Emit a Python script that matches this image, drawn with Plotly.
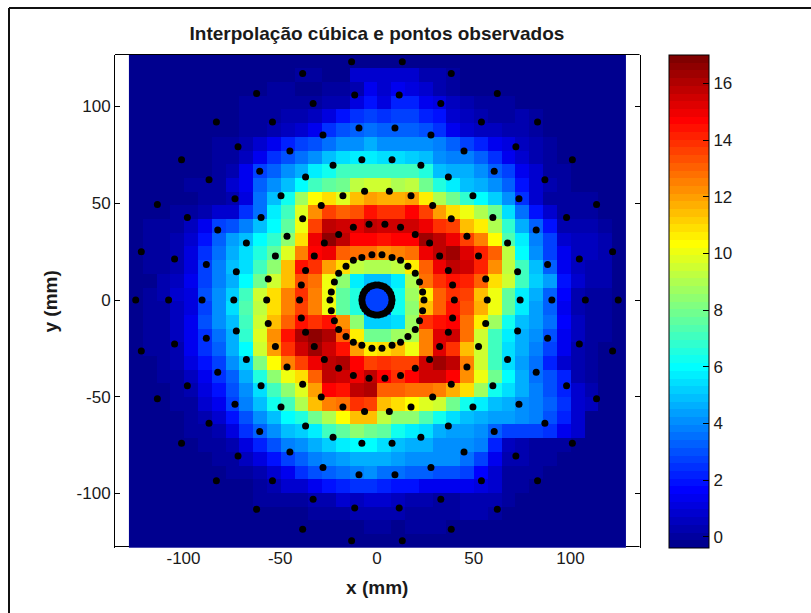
import plotly.graph_objects as go

B = -0.4  # value of the dark background cells
z_rows = [
 [B]*36,
 [B]*12+[-.1,-.1,B,-.2,.7,.7, .7,.7,.7,.2,.2,-.1]+[B]*12,
 [B]*10+[-.1,-.1,-.3,-.3,-.1,-.1,.3,1.35, .9,1.5,1.05,.7,.4,0,-.3,-.2]+[B]*10,
 [B]*8+[-.1,-.1,-.1,-.1,0,0,.2,.4,1.2,2, 1.2,2.3,2.2,1.5,1.2,.6,.2,0,0,-.1,-.2]+[B]*7,
 [B]*7+[-.2,-.1,-.1,-.1,.2,.2,.6,1.05,1.8,2.4,2.6, 2.5,2.6,2.6,2.2,1.8,.9,.6,.2,.1,.1,.2,0]+[B]*6,
 [B]*7+[-.2,-.1,0,.3,.6,.8,1.35,2.4,3,3.4,3.6, 3.4,3.4,3.4,3,2.5,1.5,.7,.6,.6,.4,.3,0,-.2]+[B]*5,
 [B]*5+[-.2,-.1,0,.2,.7,1.35,2.2,2.6,3,3.6,4,4.2,4.5, 4.2,4.2,4.2,4,3.8,3.2,2.8,2.2,1.5,1.2,.6,.2,-.1]+[B]*5,
 [B]*6+[-.1,.1,.6,1.35,2.5,3,3.5,4,4.8,5.5,5.7,5.8, 5.4,5.4,5.2,5,4.2,3.9,3.7,3.2,2.4,1.5,.9,.4,.1,-.2]+[B]*4,
 [B]*3+[-.3,-.3,-.2,0,.4,1.5,2.8,3.4,4,4.6,5.6,6.2,7,7.2,7.2, 7,7,7,6.4,5,4.7,4.5,4,3.4,2.8,1.35,.7,.1,-.1]+[B]*4,
 [B]*4+[-.1,-.1,.1,.7,1.35,3.4,4.2,5,6,7,7.5,8,9.3,9.6, 9.5,9,9.3,8,6.5,5.6,5,4.7,4.2,3.2,2,.7,.2,-.1,-.2]+[B]*3,
 [B]*2+[-.2,-.2,-.2,-.1,.1,.4,1.2,3.6,5,6.2,8.7,10.4,11,9.8,11.3,12, 11.6,11.6,12,10.6,9,8,6.8,6,5.3,4,2.4,.8,.1,0,0,-.1]+[B]*2,
 [B]*3+[-.1,.1,.2,.7,.9,2.4,3.5,5.6,7,9.7,12.3,13.7,13,13.2,14.3, 14,14,14.6,13.5,12,11,10.2,9,8,5.4,3.5,1.8,.8,.1,.1,.1]+[B]*2,
 [B,0,-.1,.1,.6,1.35,2.6,3,3.8,5,6,7.5,10.2,13.5,15.8,15.6,15.3,15.8, 15.5,15.5,15.6,15,14,13.5,11.5,10.6,9,6.8,4.7,3.3,1.8,.4,.3,.3,-.1,B],
 [B,0,.1,.4,.9,2,3.4,4.4,5,6,6.7,8.5,11,15,16.5,15.8,14.7,14.8, 14.5,14.8,14.7,16.2,15.7,15,13.7,12.4,10.3,7.3,5.8,3.7,2.8,.7,.6,.6,.2,-.2],
 [B,0,.1,.4,1.05,2.4,3.5,4.6,5.5,6.5,7.5,9.7,12.4,14.8,15,13,12.7,12.7, 12.3,12.5,12.7,15,15.8,16.2,15.2,14.2,13,9.2,6.1,4,2.8,1.5,.6,.6,.3,-.2],
 [B,-.1,.1,.4,1.2,2.6,3.8,4.8,5.5,7,8.5,11.5,14.4,14,12,11,9.3,9, 9,9.3,10.5,13,15,15.8,15.5,14.2,12.3,9.3,7,5,3.2,1.5,.6,.3,.2,-.2],
 [B,B,.2,.6,1.35,2.6,3.7,4.5,6,7.8,9.5,11.5,13.3,12.8,10.2,8.5,5.8,5, 5,5.8,9,12.8,14,14.5,14.2,13,11,9.5,7,5.3,4.4,1.8,.7,.4,.2,-.3],
 [B,-.1,.2,.7,1.2,3,4,5.3,7,9.4,11,12.6,13.8,12.6,10.2,7.5,6.5,2.8, 2.8,6.3,8.6,10.5,13,14,13.6,11.5,10,7.5,5.7,4.7,3.2,1.7,.4,.1,0,-.3],
 [B,-.1,0,.6,1.2,2.8,4,5.5,7.3,9.3,10.8,12.4,13.5,12.5,10,7.5,6.5,2.8, 2.8,6.3,8.5,11.5,13,14.5,13.4,11.7,10,7.5,5.7,4.4,3.2,1.5,.4,0,0,-.3],
 [B,0,.1,.6,1.35,3,4,5,7,9.5,11.5,13,14.5,14,14.5,12.2,8.5,5.2, 5.2,5.5,8.7,13.8,14.5,14.6,12.7,10.6,8.7,6.3,5,4.4,3.5,1.7,.6,0,-.1,B],
 [B,-.1,.1,.6,1.5,2.5,3.6,4.6,6.8,9.8,12.3,14.4,16,16.5,16,13,10.5,7.8, 8,8.7,9,12.4,15.2,15.5,12.8,9.5,7,5.7,4.7,4,3,1.5,.6,0,-.1,B],
 [B,-.1,0,.4,1.35,2.4,3.2,4.6,6,9.5,12,14,15.5,16.2,15.5,14.5,12,10.5, 11,11.4,10,12.4,15.2,14,11.5,9.6,7,5.5,4.5,3.7,2.6,1.35,.3,-.1,B,B],
 [B,B,0,.3,1.05,1.9,2.8,4,5.2,8.2,10.4,12.5,13.6,15,15.7,16,14.8,13.5, 13.8,13.5,13.6,15.6,16.4,15.7,12.5,9.5,7,5.5,4.4,3.5,2.2,.9,.3,-.1,B,B],
 [B,B,-.1,.1,.6,1.35,2.4,3.4,4.5,6.5,8.5,10.2,11,13,15.8,15.6,15,15.8, 14.6,14,14.8,15.4,15.5,14.7,12.2,10.2,8,6,4.6,3.5,3,2.2,.4,0,B,B],
 [B,B,-.2,0,.3,1.05,2,3,4.2,5.5,7,8.5,9.7,12,14.6,14.5,15.8,16, 13,13,12.8,12.8,12.4,11.8,11,8.8,6.2,5.5,4.5,3.7,3.1,2.2,.7,.4,-.2,B],
 [B,B,B,-.1,.1,.7,1.5,2.6,3.8,4.8,6.2,7.2,9,11.5,12.6,12.8,14,13.5, 11.5,10.8,10.4,9.9,9.6,7.8,6.2,5.7,5,4.6,4,3.8,3.2,2.4,.8,.6,B,B],
 [B,B,B,-.2,-.1,.3,.9,2,3,4.2,5,6,6.5,8,9,10.4,11.5,11.5, 9.2,8.4,8.4,7.4,6.2,5.5,4.8,4.5,4.3,4.3,4.2,3.8,3,2.3,.8,-.2,B,B],
 [B,B,B,B,-.1,.1,.4,1.05,2.4,3.3,4,4.8,5.3,5.8,7,7.5,8.5,8, 7.6,6.2,5.8,5.5,4.5,4.3,4.4,4,3.2,2.8,2.7,2.6,2.4,1.5,.7,-.2,B,B],
 [B,B,B,B,-.2,-.1,.1,.4,1.2,2.3,3,3.7,4.2,4.6,5.3,5.8,5.9,6, 5.5,4.8,4.5,4.5,4.2,4.2,4.1,3.7,2.2,.6,.3,.1,.1,-.1,B,B,B,B],
 [B,B,B,B,B,-.2,-.1,.1,.6,1.05,2,2.8,3.4,3.9,4.2,4.4,4.5,4.6, 4.5,4.3,4,4.2,4.2,4,3.6,2.8,1.5,.3,.2,.1,0,-.2,B,B,B,B],
 [B]*6+[-.2,-.1,.1,.3,.8,1.35,2.4,3,3.3,3.6,3.8,4, 3.6,3.6,3.4,3.3,3,2.9,2.6,1.7,.7,.1,0,-.1]+[B]*6,
 [B]*7+[-.2,-.2,0,.2,.7,.9,1.5,2,2.2,2.4,2.5, 2.1,2,1.8,1.5,1.5,1.5,1.35,1.05,.7,0,.1,-.2]+[B]*6,
 [B]*8+[-.2,-.1,-.1,0,.1,.3,.4,.7,.6,.7, .7,.6,.3,.2,0,0,.2,.3,.3,-.1]+[B]*8,
 [B]*10+[-.2,-.3,-.3,-.1,0,.1,.2,.2, .2,.2,.1,-.1,-.1,-.1,.2,.2,.1]+[B]*9,
 [B]*12+[-.2,-.2,-.3,-.2,-.2,-.1, -.1,-.3,-.1,0,0]+[B]*13,
 [B]*36,
]

# observed points: one quadrant's magnitudes per ring, with top and bottom y readings
r125_x = [124.7,121.8,113.5,101,83,62.2,38.4,13.1]
r125_t = [0,25,49.4,72.5,92,106.8,117.1,123.2]
r125_b = [0,-26.4,-51,-74,-93.4,-108.2,-118.5,-124.5]
r108_x = [107.7,104.6,98,86.8,71.8,54,33,11.5]
r108_t = [0,21.2,42.7,62.2,79.2,92,101.6,106]
r108_b = [0,-22.7,-44.3,-63.7,-80.6,-93.4,-103,-107.5]
r90_x = [90.4,88.2,82.3,73.4,60.6,45,27.9,9.3]
r90_t = [0,18.3,36.2,52.4,66.5,77,85.3,88.9]
r90_b = [0,-19.8,-37.4,-53.9,-68,-78.6,-86.6,-90.3]
r74_x = [74,72.7,67.5,59.9,49.6,36.9,22.7,7.8]
r74_t = [0,14.6,29.5,42.7,53.9,63.6,69.6,72.5]
r74_b = [0,-16,-30.8,-44.3,-55.3,-65.1,-71,-74]
r57_x = [57,56.2,52.5,46.5,38.4,28.8,17.6,6.4]
r57_t = [0,10.9,22.7,33,42,48.8,53.9,56.2]
r57_b = [0,-12.2,-24.1,-34.6,-43.6,-50.1,-55.3,-57.7]
r40_x = [40,39.1,36.9,32.4,27.2,19.8,12.2,4.1]
r40_t = [0,7.8,15.3,22.7,29.5,33.9,37.6,39.1]
r40_b = [0,-9.3,-16.7,-24.1,-30.8,-35.3,-39,-40.5]
r24_x = [24.3,23.6,22,19.8,16,12.2,7.8,2.6]
r24_t = [0,4.1,9.3,13.8,17.4,20.5,22,23.4]
r24_b = [0,-5.5,-10.7,-15.2,-18.9,-21.9,-23.4,-25]
r8_x = [7.8,7.6,7.1,6.3,5.2,3.9,2.4,0.8]
r8_t = [0,1.6,3.2,4.6,5.8,6.8,7.4,7.8]
r8_b = [0,-1.6,-3.2,-4.6,-5.8,-6.8,-7.4,-7.8]

rings = [(r125_x,r125_t,r125_b),(r108_x,r108_t,r108_b),(r90_x,r90_t,r90_b),(r74_x,r74_t,r74_b),
         (r57_x,r57_t,r57_b),(r40_x,r40_t,r40_b),(r24_x,r24_t,r24_b),(r8_x,r8_t,r8_b)]
obs_x, obs_y = [], []
for xs, ts, bs in rings:
    for sx in (-1, 1):
        obs_x += [sx*v for v in xs] + [sx*v for v in xs[1:]]
        obs_y += list(ts) + list(bs[1:])

x_ticks = [-100,-50,0,50,100]
x_tick_text = ["-100","-50","0","50","100"]
y_ticks = [-100,-50,0,50,100]
y_tick_text = ["-100","-50","0","50","100"]
cb_ticks = [0,2,4,6,8,10,12,14,16]
title_text = "Interpolação cúbica e pontos observados"
x_label = "x (mm)"
y_label = "y (mm)"

W, H = 811, 613
FONT = "Liberation Sans, Arial, sans-serif"
INK = "#1a1a1a"
ZMIN, ZMAX = -0.4, 17.0

def jet(t):
    c = lambda v: max(0.0, min(1.0, v))
    return "rgb(%d,%d,%d)" % (round(255*c(min(4*t-1.5, -4*t+4.5))),
                              round(255*c(min(4*t-0.5, -4*t+3.5))),
                              round(255*c(min(4*t+0.5, -4*t+2.5))))
N = 64
jet_scale = []
for i in range(N):
    col = jet((i+1)/N)
    jet_scale += [[i/N, col], [(i+1)/N, col]]

CX0, CY0, CW, CH = 669, 55, 39.5, 493
fig = go.Figure()
fig.add_trace(go.Heatmap(
    z=z_rows, x0=-128.2+7.14/2, dx=7.14, y0=126.8-7.08/2, dy=-7.08,
    zmin=ZMIN, zmax=ZMAX, colorscale=jet_scale, zsmooth=False, hoverinfo="skip",
    colorbar=dict(x=CX0/W, xanchor="left", xpad=0, y=1-CY0/H, yanchor="top", ypad=0,
                  thicknessmode="pixels", thickness=CW, lenmode="fraction", len=CH/H,
                  outlinecolor="black", outlinewidth=1, borderwidth=0,
                  tickmode="array", tickvals=cb_ticks, ticks="inside", ticklen=6,
                  tickcolor="black", tickwidth=1,
                  tickfont=dict(family=FONT, size=17, color=INK))))
fig.add_trace(go.Scatter(x=obs_x, y=obs_y, mode="markers", showlegend=False, hoverinfo="skip",
                         marker=dict(color="black", size=7, line=dict(width=0))))

label_font = dict(family=FONT, size=19, color=INK, weight="bold")
tick_font = dict(family=FONT, size=17, color=INK)
fig.update_layout(
    width=W, height=H, margin=dict(l=0, r=0, t=0, b=0),
    paper_bgcolor="white", plot_bgcolor="white", showlegend=False,
    title=dict(text=title_text, x=377/W, xanchor="center", y=1-33/H, yanchor="middle",
               font=dict(family=FONT, size=19, color=INK, weight="bold")),
    xaxis=dict(domain=[115/W, 639.5/W], range=[-135.4, 135.7], tickmode="array",
               tickvals=x_ticks, ticktext=x_tick_text, anchor="free", position=1-546.3/H,
               showline=False, ticks="", showgrid=False, zeroline=False, tickfont=tick_font,
               title=dict(text=x_label, standoff=13, font=label_font)),
    yaxis=dict(domain=[1-548/H, 1-54.7/H], range=[-128.2, 126.8], tickmode="array",
               tickvals=y_ticks, ticktext=y_tick_text,
               showline=True, linecolor="black", linewidth=1, mirror="ticks", ticks="inside",
               ticklen=5, tickcolor="black", tickwidth=1, showgrid=False, zeroline=False,
               tickfont=tick_font, layer="below traces",
               title=dict(text=y_label, standoff=13, font=label_font)),
)
ax_line = dict(color="black", width=1)
shapes = [
    dict(type="line", xref="paper", yref="paper", x0=9/W, x1=9/W, y0=0, y1=1-8/H, line=dict(color="#111", width=2)),
    dict(type="line", xref="paper", yref="paper", x0=9/W, x1=1, y0=1-8/H, y1=1-8/H, line=dict(color="#111", width=2)),
    dict(type="line", xref="paper", yref="paper", x0=115/W, x1=639.5/W, y0=1-54.5/H, y1=1-54.5/H, line=ax_line),
    dict(type="line", xref="paper", yref="paper", x0=115/W, x1=129/W, y0=1-546.5/H, y1=1-546.5/H, line=ax_line),
    dict(type="line", xref="paper", yref="paper", x0=626/W, x1=639.5/W, y0=1-546.5/H, y1=1-546.5/H, line=ax_line),
]
for v in cb_ticks:
    yy = 1 - (CY0 + CH*(ZMAX-v)/(ZMAX-ZMIN))/H
    shapes.append(dict(type="line", xref="paper", yref="paper", x0=CX0/W, x1=(CX0+6)/W, y0=yy, y1=yy,
                       line=dict(color="black", width=1)))
fig.update_layout(shapes=shapes)
fig.write_html("out.html", config={"displayModeBar": False},
               post_script="document.body.style.margin='0';")
